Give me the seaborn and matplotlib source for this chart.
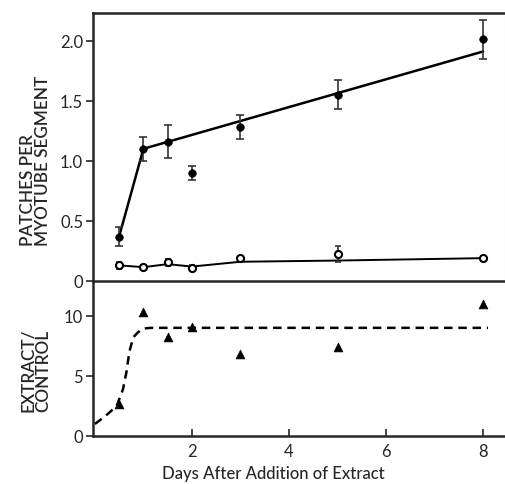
import numpy as np
import pandas as pd
import matplotlib
matplotlib.use("Agg")
import matplotlib.pyplot as plt
import seaborn as sns

# ---- data ----
days = [0.5, 1, 1.5, 2, 3, 5, 8]
extract_mean = [0.37, 1.10, 1.16, 0.90, 1.28, 1.55, 2.01]
extract_err = [0.08, 0.10, 0.14, 0.06, 0.10, 0.12, 0.16]
control_mean = [0.13, 0.115, 0.155, 0.11, 0.19, 0.225, 0.19]
control_err = [0.03, 0.02, 0.03, 0.02, 0.02, 0.07, 0.02]

extract_fit_days = [0.5, 1, 8]
extract_fit = [0.37, 1.10, 1.91]
control_fit_days = [0.5, 1, 1.5, 2, 3, 5, 8]
control_fit = [0.13, 0.115, 0.14, 0.12, 0.16, 0.17, 0.19]

ratio = [2.7, 10.3, 8.2, 9.1, 6.8, 7.4, 11.0]
ratio_curve_days = [0.0, 0.2, 0.45, 0.58, 0.65, 0.71, 0.79, 0.88, 0.96, 1.06, 1.17, 8.1]
ratio_curve = [1.0, 1.6, 2.5, 3.9, 5.3, 7.0, 8.2, 8.6, 8.85, 8.97, 9.0, 9.0]

top_ticks = [0, 0.5, 1.0, 1.5, 2.0]
top_ticklabels = ["0", "0.5", "1.0", "1.5", "2.0"]
bot_yticks = [0, 5, 10]
xticks = [2, 4, 6, 8]

sns.set_style("ticks")
plt.rcParams['font.family'] = ['Lato', 'DejaVu Sans']

fig = plt.figure(figsize=(5.05, 4.85), dpi=100)
ax1 = fig.add_axes([0.184, 0.4186, 0.816, 0.5525])
ax2 = fig.add_axes([0.184, 0.099, 0.816, 0.3196], sharex=ax1)
ax2.patch.set_alpha(0)

lw = 1.8
# top panel
df_ef = pd.DataFrame({"d": extract_fit_days, "v": extract_fit})
df_cf = pd.DataFrame({"d": control_fit_days, "v": control_fit})
sns.lineplot(data=df_ef, x="d", y="v", ax=ax1, color="black", lw=lw)
sns.lineplot(data=df_cf, x="d", y="v", ax=ax1, color="black", lw=1.4)

ax1.errorbar(days, extract_mean, yerr=extract_err, fmt="none", ecolor="#333333",
             elinewidth=1.2, capsize=3, capthick=1.2, zorder=3)
ax1.errorbar(days, control_mean, yerr=control_err, fmt="none", ecolor="#333333",
             elinewidth=1.2, capsize=2.5, capthick=1.2, zorder=3)
df_e = pd.DataFrame({"d": days, "v": extract_mean})
df_c = pd.DataFrame({"d": days, "v": control_mean})
sns.scatterplot(data=df_e, x="d", y="v", ax=ax1, color="black", s=30,
                edgecolor="black", zorder=4)
sns.scatterplot(data=df_c, x="d", y="v", ax=ax1, color="white", s=26,
                edgecolor="black", linewidth=1.5, zorder=4)

ax1.set_ylim(0, 2.23)
ax1.set_xlim(-0.04, 8.45)
ax1.set_yticks(top_ticks)
ax1.set_yticklabels(top_ticklabels)
ax1.set_ylabel("PATCHES PER\nMYOTUBE SEGMENT", fontsize=12.3, linespacing=0.95,
               multialignment="left", fontweight="semibold")
ax1.yaxis.set_label_coords(-0.102, 0.451)
ax1.set_xlabel("")
ax1.tick_params(axis="x", bottom=False, labelbottom=False)
ax1.tick_params(axis="y", direction="out", length=5, width=1.2, labelsize=12, pad=2)
for s in ["top", "left"]:
    ax1.spines[s].set_linewidth(1.8)
ax1.spines["bottom"].set_visible(False)
ax1.spines["right"].set_linewidth(0.8)
ax1.spines["right"].set_color("#dddddd")

# bottom panel
df_rc = pd.DataFrame({"d": ratio_curve_days, "v": ratio_curve})
sns.lineplot(data=df_rc, x="d", y="v", ax=ax2, color="black", lw=1.8,
             linestyle=(0, (3.4, 2.3)))
df_r = pd.DataFrame({"d": days, "v": ratio})
sns.scatterplot(data=df_r, x="d", y="v", ax=ax2, color="black", marker="^",
                s=40, edgecolor="black", zorder=4)
ax2.set_ylim(0, 12.9)
ax2.set_yticks(bot_yticks)
ax2.set_xticks(xticks)
ax2.set_ylabel("EXTRACT/\nCONTROL", fontsize=12.3, linespacing=0.95,
               multialignment="left", fontweight="semibold")
ax2.yaxis.set_label_coords(-0.102, 0.432)
ax2.set_xlabel("Days After Addition of Extract", fontsize=12, fontweight="medium")
ax2.xaxis.set_label_coords(0.439, -0.19)
ax2.tick_params(axis="x", direction="in", length=5, width=1.2, labelsize=12, pad=5)
ax2.tick_params(axis="y", direction="out", length=5, width=1.2, labelsize=12, pad=2)
ax2.spines["right"].set_visible(False)
for s in ["left", "bottom", "top"]:
    ax2.spines[s].set_linewidth(1.8)

fig.savefig("out.png", dpi=100)
